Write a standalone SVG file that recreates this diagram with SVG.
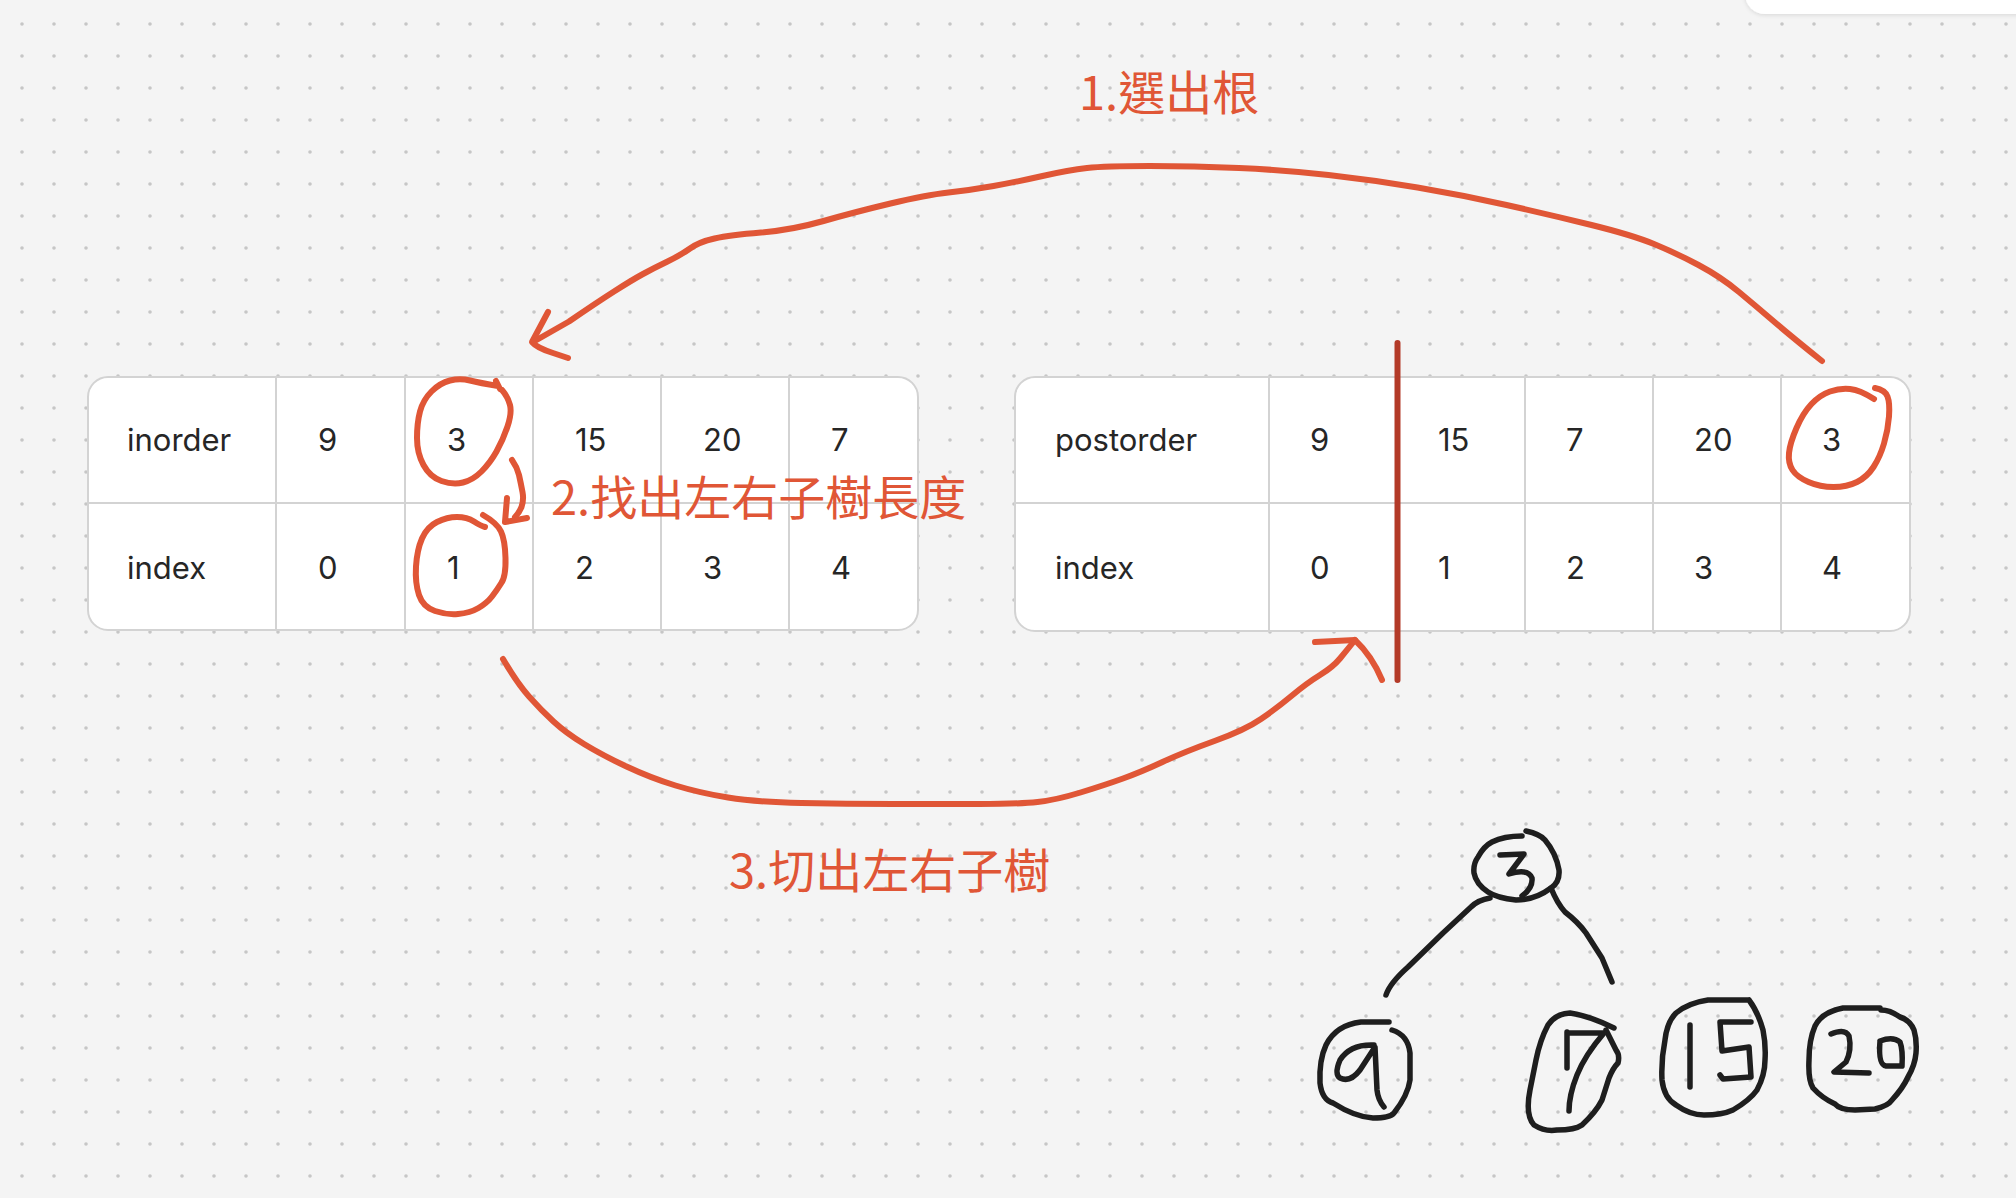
<svg xmlns="http://www.w3.org/2000/svg" width="2016" height="1198" viewBox="0 0 2016 1198">
<style>
.tb{fill:#ffffff;stroke:#d3d3d3;stroke-width:2}
.gl{stroke:#d3d3d3;stroke-width:2;fill:none}
.tt{font-family:Inter,"Liberation Sans",sans-serif;font-size:31px;fill:#262626}
.lb{font-family:"Noto Sans CJK TC","Noto Sans CJK SC",sans-serif;font-size:47px;fill:#e05636}
.ink{fill:none;stroke:#e05636;stroke-width:6;stroke-linecap:round;stroke-linejoin:round}
.pen{fill:none;stroke:#1e1e1e;stroke-width:5.5;stroke-linecap:round;stroke-linejoin:round}
</style>
<defs>
<pattern id="dots" x="0" y="0" width="32" height="32" patternUnits="userSpaceOnUse">
<circle cx="22" cy="24" r="1.8" fill="#c6c6c6"/>
</pattern>
<filter id="sh" x="-20%" y="-100%" width="140%" height="300%">
<feDropShadow dx="0" dy="1" stdDeviation="2" flood-color="#000" flood-opacity="0.12"/>
</filter>
</defs>
<rect x="0" y="0" width="2016" height="1198" fill="#f4f4f4"/>
<rect x="0" y="0" width="2016" height="1198" fill="url(#dots)"/>
<rect x="1745" y="-40" width="320" height="54" rx="20" fill="#ffffff" filter="url(#sh)"/>

<g id="inorder-table">
<rect class="tb" x="88" y="377" width="830" height="253" rx="20"/>
<path class="gl" d="M276,377V630M405,377V630M533,377V630M661,377V630M789,377V630M88,503H918"/>
<text class="tt" x="127" y="451">inorder</text>
<text class="tt" x="318" y="451">9</text>
<text class="tt" x="447" y="451">3</text>
<text class="tt" x="575" y="451">15</text>
<text class="tt" x="703" y="451">20</text>
<text class="tt" x="831" y="451">7</text>
<text class="tt" x="127" y="579">index</text>
<text class="tt" x="318" y="579">0</text>
<text class="tt" x="447" y="579">1</text>
<text class="tt" x="575" y="579">2</text>
<text class="tt" x="703" y="579">3</text>
<text class="tt" x="831" y="579">4</text>
</g>

<g id="postorder-table">
<rect class="tb" x="1015" y="377" width="895" height="254" rx="20"/>
<path class="gl" d="M1269,377V631M1397,377V631M1525,377V631M1653,377V631M1781,377V631M1015,503H1910"/>
<text class="tt" x="1055" y="451">postorder</text>
<text class="tt" x="1310" y="451">9</text>
<text class="tt" x="1438" y="451">15</text>
<text class="tt" x="1566" y="451">7</text>
<text class="tt" x="1694" y="451">20</text>
<text class="tt" x="1822" y="451">3</text>
<text class="tt" x="1055" y="579">index</text>
<text class="tt" x="1310" y="579">0</text>
<text class="tt" x="1438" y="579">1</text>
<text class="tt" x="1566" y="579">2</text>
<text class="tt" x="1694" y="579">3</text>
<text class="tt" x="1822" y="579">4</text>
</g>

<g id="split-line">
<path d="M1397.5,343V680" fill="none" stroke="#b33a28" stroke-width="6" stroke-linecap="round"/>
</g>

<g id="ink-marks">
<path class="ink" d="M498,386 Q480,383 470,380.5 Q460,378 450,380.5 Q440,383 431.5,391.5 Q423,400 420,411.5 Q417,423 417,438 Q417,453 423.5,465 Q430,477 441.5,481 Q453,485 463,482.5 Q473,480 481.5,471.5 Q490,463 496.5,451.5 Q503,440 507.5,426.5 Q512,413 510,405 Q508,397 502,390 M496,381 L500,389"/>
<path class="ink" d="M483,515 Q497,523 501,531.5 Q505,540 505.5,558 Q506,577 501,583.5 Q497,590 492,596.5 Q487,603 478.5,608 Q470,613 458,614 Q447,615 435,611 Q423,607 419,595 Q415,583 416,566.5 Q417,550 422,538.5 Q427,527 437,522 Q447,517 457,517 Q467,517 474,521.5 Q481,526 485,527"/>
<path class="ink" d="M1874,399 Q1860,390 1850,389 Q1840,388 1830,391.5 Q1820,395 1811.5,404 Q1803,413 1796.5,428 Q1790,443 1789,453 Q1788,463 1792.5,470 Q1797,477 1808.5,482 Q1820,487 1833.5,487 Q1847,487 1857,482 Q1867,477 1873.5,467 Q1880,457 1884,443.5 Q1888,430 1889,416.5 Q1890,403 1887.5,396.5 Q1885,390 1875,388"/>
</g>

<g id="connectors">
<path class="ink" stroke-width="5.5" d="M1822,361 Q1792,337 1774.5,322 Q1757,307 1739,292 Q1721,277 1698.5,265 Q1676,253 1654,244 Q1632,235 1591.5,225 Q1551,215 1506.5,205 Q1462,195 1417.5,187.5 Q1373,180 1328.5,175 Q1284,170 1239,168 Q1194,166 1149.5,166 Q1105,166 1087,168 Q1069,170 1042.5,176 Q1016,182 993.5,186 Q971,190 948.5,192.5 Q926,195 890.5,203.5 Q855,212 823.5,221 Q792,230 761,232.5 Q730,235 714.5,238.5 Q699,242 690,248.5 Q681,255 667.5,261.5 Q654,268 643,274 Q632,280 614,291.5 Q596,303 569,321.5 L533,342"/>
<path class="ink" d="M548,312 L532,342 Q537,348 553,353 L568,358"/>
<path class="ink" d="M512,460 Q517,467 519,475 Q521,484 522.5,492 Q524,500 521.5,507 Q519,513 515,517"/>
<path class="ink" d="M507,498 L505,522 L527,518"/>
<path class="ink" d="M503,659 Q517,683 529,696.5 Q541,710 553.5,721.5 Q566,733 584,744 Q602,755 626.5,766.5 Q651,778 675.5,785.5 Q700,793 728,797.5 Q756,802 801.5,803 Q847,804 893,804 Q939,804 979,804 Q1019,804 1037.5,802 Q1056,800 1080.5,792.5 Q1105,785 1123,778.5 Q1141,772 1162.5,762 Q1184,752 1214.5,741 Q1245,730 1261,719 Q1277,708 1292,695.5 Q1307,683 1320,675 Q1333,667 1340,658.5 Q1347,650 1355,640"/>
<path class="ink" d="M1315,642 L1355,640 Q1372,656 1382,680"/>
</g>

<g id="label-1"><text class="lb" x="1079" y="110" font-size="46">1.選出根</text></g>
<g id="label-2"><text class="lb" x="551" y="515">2.找出左右子樹長度</text></g>
<g id="label-3"><text class="lb" x="729" y="888">3.切出左右子樹</text></g>

<g id="tree-root">
<path class="pen" d="M1526,831 Q1540,834 1545,840 Q1556,853 1559,870 Q1560,882 1551,888 Q1535,900 1516,900 Q1497,898 1488,892 Q1476,884 1474,873 Q1473,864 1478,857 Q1484,846 1492,842 Q1504,836 1522,836"/>
<path class="pen" d="M1500,855 L1524,854 L1509,874 Q1528,868 1532,878 Q1533,888 1522,896"/>
</g>
<g id="tree-edges">
<path class="pen" d="M1490,898 Q1478,900 1471,907 L1443,933 L1408,967 Q1390,983 1386,995"/>
<path class="pen" d="M1551,888 Q1557,903 1565,912 Q1578,922 1586,933 L1602,958 L1612,982"/>
</g>
<g id="tree-9">
<path class="pen" d="M1389,1022 L1361,1022 Q1336,1025 1326,1045 Q1319,1060 1320,1083 Q1322,1100 1333,1103 Q1355,1117 1373,1118 Q1390,1118 1394,1113 Q1408,1095 1410,1080 L1410,1053 Q1408,1035 1392,1030"/>
<path class="pen" d="M1374,1045 Q1350,1044 1340,1060 Q1334,1074 1340,1078 Q1350,1083 1360,1070 L1375,1047 Q1376,1070 1377,1090 Q1378,1100 1384,1107"/>
</g>
<g id="tree-7">
<path class="pen" d="M1614,1028 Q1590,1016 1570,1013 Q1555,1014 1548,1025 Q1540,1040 1536,1060 L1530,1090 Q1525,1115 1534,1125 Q1545,1132 1557,1130 Q1575,1130 1582,1125 Q1596,1112 1602,1100 L1609,1078 Q1613,1068 1618,1063 Q1620,1055 1616,1050 L1606,1030"/>
<path class="pen" d="M1567,1032 L1567,1068 M1567,1033 L1604,1033 Q1585,1055 1577,1075 Q1569,1095 1569,1111"/>
</g>
<g id="tree-15">
<path class="pen" d="M1749,1000 L1708,1000 Q1688,1003 1676,1013 Q1667,1022 1665,1040 Q1661,1060 1662,1080 Q1664,1098 1676,1105 Q1690,1115 1704,1115 Q1722,1115 1733,1110 Q1750,1100 1757,1090 Q1765,1075 1765,1060 Q1766,1045 1763,1030 Q1758,1012 1749,1000"/>
<path class="pen" d="M1690,1025 L1690,1087 M1751,1022 L1720,1022 L1722,1051 L1749,1047 L1751,1077 L1723,1079 L1720,1075"/>
</g>
<g id="tree-20">
<path class="pen" d="M1880,1008 L1843,1008 Q1822,1012 1815,1026 Q1809,1040 1809,1060 Q1808,1080 1813,1088 Q1822,1098 1835,1104 Q1840,1110 1855,1110 L1875,1109 Q1888,1106 1892,1100 Q1903,1088 1908,1077 Q1915,1065 1916,1053 Q1917,1040 1914,1030 Q1910,1020 1900,1017 Q1890,1010 1881,1010"/>
<path class="pen" d="M1831,1034 Q1845,1028 1849,1036 Q1852,1050 1846,1062 L1834,1072 L1869,1073 M1880,1041 Q1878,1065 1886,1066 L1902,1066 Q1903,1050 1900,1042 Q1893,1036 1880,1041"/>
</g>
</svg>
